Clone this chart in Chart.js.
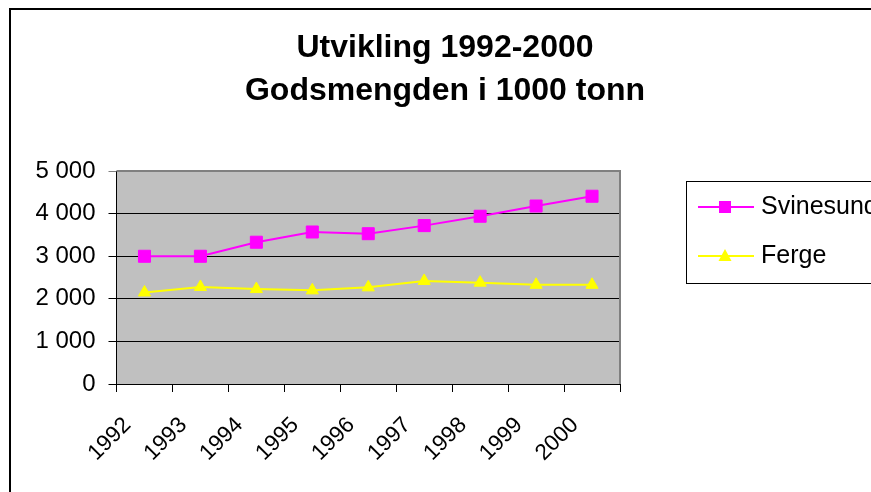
<!DOCTYPE html>
<html>
<head>
<meta charset="utf-8">
<script src="https://cdn.jsdelivr.net/npm/chart.js@4.4.0/dist/chart.umd.min.js"></script>
<style>
  html, body { margin: 0; padding: 0; background: #fff; }
  #wrap { width: 871px; height: 492px; }
</style>
</head>
<body>
<div id="wrap"><canvas id="myChart" width="871" height="492"></canvas></div>
<script>
// data
const years = ['1992', '1993', '1994', '1995', '1996', '1997', '1998', '1999', '2000'];
const svinesund = [3000, 3000, 3330, 3570, 3530, 3720, 3940, 4180, 4410];
const ferge = [2150, 2280, 2230, 2200, 2270, 2420, 2380, 2330, 2330];
const yTicks = [0, 1000, 2000, 3000, 4000, 5000];
const titleLines = ['Utvikling 1992-2000', 'Godsmengden i 1000 tonn'];

const FONT = "'Liberation Sans', Arial, sans-serif";

// number like "5 000"
function fmt(v) {
  return String(v).replace(/\B(?=(\d{3})+(?!\d))/g, ' ');
}

// black frame round the whole chart + grey plot area
const framePlugin = {
  id: 'frame',
  beforeDraw(chart) {
    const ctx = chart.ctx;
    const a = chart.chartArea;
    ctx.save();
    ctx.fillStyle = '#fff';
    ctx.fillRect(0, 0, chart.width, chart.height);
    ctx.strokeStyle = '#000';
    ctx.lineWidth = 2;
    ctx.strokeRect(10, 9, chart.width + 20, chart.height + 20);
    ctx.fillStyle = '#C0C0C0';
    ctx.fillRect(a.left, a.top, a.right - a.left, a.bottom - a.top);
    ctx.restore();
  },
  afterDatasetsDraw(chart) {
    const ctx = chart.ctx;
    const a = chart.chartArea;
    ctx.save();
    ctx.strokeStyle = '#808080';
    ctx.lineWidth = 2;
    ctx.beginPath();
    ctx.moveTo(a.left, a.top);
    ctx.lineTo(a.right, a.top);
    ctx.lineTo(a.right, a.bottom);
    ctx.stroke();
    ctx.restore();
  }
};

// legend in a box on the right
const boxLegend = {
  id: 'boxLegend',
  afterDraw(chart) {
    const ctx = chart.ctx;
    ctx.save();
    ctx.strokeStyle = '#000';
    ctx.lineWidth = 1;
    ctx.strokeRect(686.5, 181.5, 300, 102);
    const rows = [207, 256];
    chart.data.datasets.forEach((ds, i) => {
      const y = rows[i];
      ctx.strokeStyle = ds.borderColor;
      ctx.lineWidth = 2;
      ctx.beginPath();
      ctx.moveTo(698, y);
      ctx.lineTo(754, y);
      ctx.stroke();
      ctx.fillStyle = ds.pointBackgroundColor;
      if (ds.pointStyle === 'rect') {
        ctx.fillRect(719, y - 6, 12, 12);
      } else {
        ctx.beginPath();
        ctx.moveTo(725, y - 7);
        ctx.lineTo(731.5, y + 5);
        ctx.lineTo(718.5, y + 5);
        ctx.closePath();
        ctx.fill();
      }
      ctx.fillStyle = '#000';
      ctx.font = '25px ' + FONT;
      ctx.textBaseline = 'middle';
      ctx.textAlign = 'left';
      ctx.fillText(ds.label, 761, y + 0.5);
    });
    ctx.restore();
  }
};

const ctx = document.getElementById('myChart');
const myChart = new Chart(ctx, {
  type: 'line',
  data: {
    labels: years,
    datasets: [
      {
        label: 'Svinesund',
        data: svinesund,
        borderColor: '#FF00FF',
        backgroundColor: '#FF00FF',
        pointBackgroundColor: '#FF00FF',
        pointBorderColor: '#FF00FF',
        pointStyle: 'rect',
        pointRadius: 8.5,
        pointBorderWidth: 1,
        borderWidth: 2,
        tension: 0
      },
      {
        label: 'Ferge',
        data: ferge,
        borderColor: '#FFFF00',
        backgroundColor: '#FFFF00',
        pointBackgroundColor: '#FFFF00',
        pointBorderColor: '#FFFF00',
        pointStyle: 'triangle',
        pointRadius: 7,
        pointBorderWidth: 1,
        borderWidth: 2,
        tension: 0
      }
    ]
  },
  options: {
    responsive: false,
    animation: false,
    devicePixelRatio: 1,
    layout: { padding: { left: 19, right: 0, top: 0, bottom: 0 } },
    plugins: {
      legend: { display: false },
      tooltip: { enabled: false },
      title: {
        display: true,
        text: titleLines,
        color: '#000',
        font: { family: FONT, size: 32, weight: 'bold', lineHeight: 1.33 },
        padding: { top: 27, bottom: 59 }
      }
    },
    scales: {
      x: {
        offset: true,
        grid: {
          offset: true,
          drawOnChartArea: false,
          drawTicks: true,
          tickLength: 8,
          color: '#000'
        },
        border: { color: '#000', width: 1 },
        ticks: {
          color: '#000',
          font: { family: FONT, size: 22.5 },
          maxRotation: 45,
          minRotation: 45,
          autoSkip: false,
          labelOffset: -17,
          padding: 20
        },
        afterFit(scale) { scale.height = 108; }
      },
      y: {
        min: 0,
        max: 5000,
        afterBuildTicks(scale) {
          scale.ticks = yTicks.map(v => ({ value: v }));
        },
        grid: {
          color: c => (c.tick && c.tick.value === 5000 ? '#808080' : '#000'),
          tickLength: 8,
          lineWidth: 1
        },
        border: { color: '#000', width: 1 },
        ticks: {
          color: '#000',
          font: { family: FONT, size: 24 },
          padding: 13,
          callback: v => fmt(v)
        },
        afterFit(scale) { scale.width = 97.5; }
      },
      yRight: {
        position: 'right',
        display: true,
        grid: { display: false, drawTicks: false },
        border: { display: false },
        ticks: { display: false },
        afterFit(scale) { scale.width = 251; }
      }
    }
  },
  plugins: [framePlugin, boxLegend]
});
</script>
</body>
</html>
